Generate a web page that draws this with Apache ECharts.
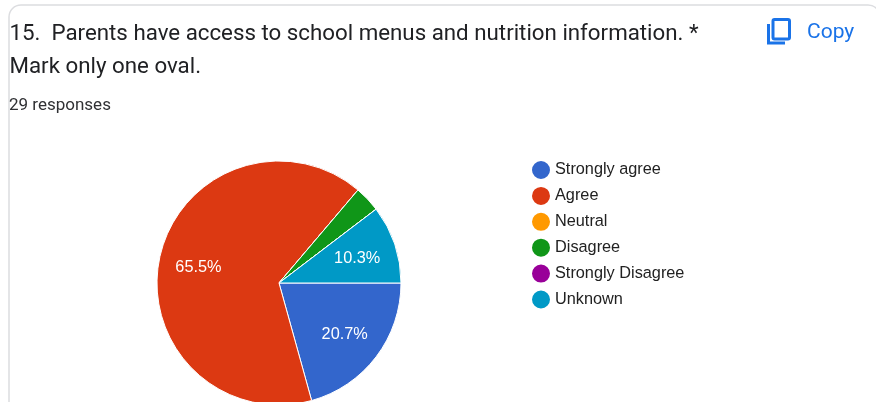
<!DOCTYPE html>
<html><head><meta charset="utf-8">
<style>html,body{margin:0;padding:0;background:#fff}#c{width:876px;height:402px}</style>
<script src="https://cdn.jsdelivr.net/npm/echarts@6/dist/echarts.min.js"></script>
</head><body><div id="c"></div>
<script>
const categories = ["Strongly agree","Agree","Neutral","Disagree","Strongly Disagree","Unknown"];
const responses = [6,19,0,1,0,3];
const colors = ["#3366cc","#dc3912","#ff9900","#109618","#990099","#0099c6"];
const questionLine = "15.  Parents have access to school menus and nutrition information. *";
const instructionLine = "Mark only one oval.";
const responsesLine = "29 responses";
const copyLabel = "Copy";
const pieData = categories.map((name,i)=>({name,value:responses[i]}));
const chart = echarts.init(document.getElementById('c'),null,{renderer:'canvas'});
const txt = (left,top,text,size,color,family)=>({left:left-5,top:top-5,text,textStyle:{fontSize:size,fontWeight:'normal',color,fontFamily:family,lineHeight:size+4}});
chart.setOption({
  animation:false,
  backgroundColor:'#fff',
  color:colors,
  title:[
    txt(9.5,21,questionLine,22.3,'#202124','Roboto'),
    txt(9.5,54,instructionLine,22.3,'#202124','Roboto'),
    txt(9,95,responsesLine,17,'#303134','Roboto'),
    txt(807,20,copyLabel,21,'#1a73e8','Roboto')
  ],
  legend:{
    orient:'vertical',left:530,top:159,padding:0,itemWidth:20,itemHeight:20,itemGap:3.9,icon:'circle',
    data:categories,
    selectedMode:false,
    textStyle:{fontSize:16.3,lineHeight:20,color:'#222',fontFamily:'Liberation Sans',padding:[1,0,0,-1]}
  },
  series:[
    {type:'pie',center:[279,283],radius:[0,122],startAngle:0,clockwise:true,silent:true,
     data:pieData,label:{show:false},labelLine:{show:false},
     itemStyle:{borderColor:'#fff',borderWidth:1}},
    {type:'pie',center:[279,283],radius:[37,122],startAngle:0,clockwise:true,silent:true,
     data:pieData,legendHoverLink:false,itemStyle:{color:'transparent',borderWidth:0},
     labelLine:{show:false},labelLayout:{dy:2},
     label:{position:'inside',color:'#fff',fontSize:16.3,fontFamily:'Liberation Sans',
       formatter:p=>p.percent>=5?p.percent.toFixed(1)+'%':''}}
  ],
  graphic:[
    {type:'rect',shape:{x:9,y:5,width:871,height:600,r:12},style:{fill:'none',stroke:'#dcdde0',lineWidth:1.5},silent:true},
    {type:'rect',shape:{x:773,y:19.5,width:16.5,height:19.5,r:1.5},style:{fill:'none',stroke:'#1a73e8',lineWidth:3},silent:true},
    {type:'polyline',shape:{points:[[768.5,24],[768.5,43],[785,43]]},style:{fill:'none',stroke:'#1a73e8',lineWidth:3},silent:true}
  ]
});
</script></body></html>
